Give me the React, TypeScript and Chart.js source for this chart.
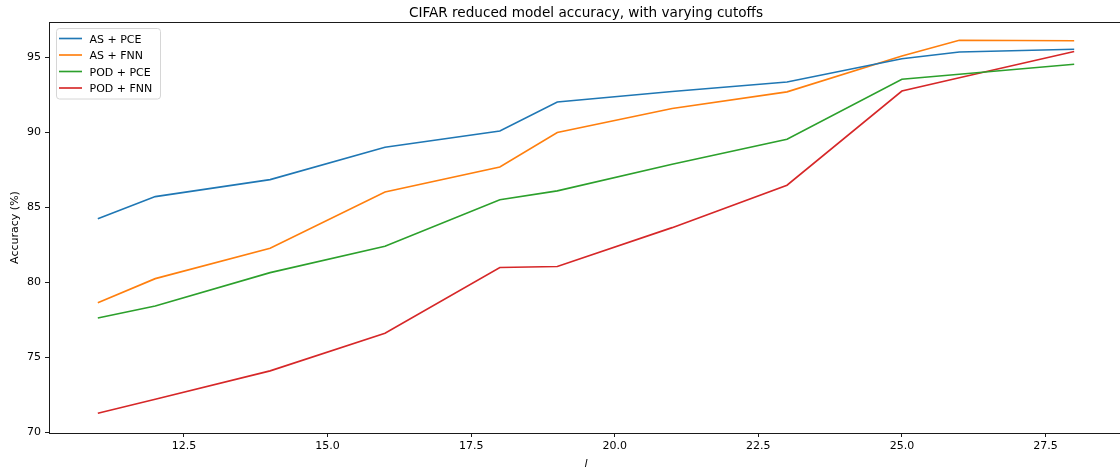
import React, { useEffect, useRef } from "react";
import { Chart, registerables } from "chart.js";

Chart.register(...registerables);

// ---- data ----
const xValues = [11, 12, 14, 16, 18, 19, 21, 23, 25, 26, 28];
const asPce = [84.24, 85.71, 86.84, 89.0, 90.08, 92.02, 92.72, 93.35, 94.9, 95.35, 95.53];
const asFnn = [78.64, 80.24, 82.27, 86.02, 87.68, 89.98, 91.58, 92.69, 95.08, 96.13, 96.1];
const podPce = [77.62, 78.42, 80.64, 82.4, 85.5, 86.09, 87.87, 89.53, 93.53, 93.87, 94.53];
const podFnn = [71.27, 72.2, 74.09, 76.6, 80.98, 81.05, 83.64, 86.47, 92.75, 93.63, 95.38];

const seriesLabels = ["AS + PCE", "AS + FNN", "POD + PCE", "POD + FNN"];
const seriesValues = [asPce, asFnn, podPce, podFnn];
const seriesColors = ["#1f77b4", "#ff7f0e", "#2ca02c", "#d62728"];

const xTicks = [12.5, 15, 17.5, 20, 22.5, 25, 27.5];
const yTicks = [70, 75, 80, 85, 90, 95];

const titleText = "CIFAR reduced model accuracy, with varying cutoffs";
const xLabel = "l";
const yLabel = "Accuracy (%)";

const FONT = "'DejaVu Sans', sans-serif";

const framePlugin = {
  id: "frame",
  afterDraw(chart: any) {
    const { ctx, chartArea } = chart;
    const l = Math.floor(chartArea.left) + 0.5;
    const t = Math.floor(chartArea.top) + 0.5;
    const r = Math.floor(chartArea.right) + 0.5;
    const b = Math.floor(chartArea.bottom) + 0.5;
    ctx.save();
    ctx.strokeStyle = "#1a1a1a";
    ctx.lineWidth = 1;
    ctx.strokeRect(l, t, r - l, b - t);
    ctx.restore();
  },
};

const titlePlugin = {
  id: "mplTitle",
  afterDraw(chart: any) {
    const { ctx, chartArea } = chart;
    ctx.save();
    ctx.font = `13.6px ${FONT}`;
    ctx.fillStyle = "#000";
    ctx.textAlign = "center";
    ctx.textBaseline = "alphabetic";
    ctx.fillText(titleText, (chartArea.left + chartArea.right) / 2, 16.8);
    ctx.restore();
  },
};

const legendPlugin = {
  id: "mplLegend",
  afterDraw(chart: any) {
    const { ctx, chartArea } = chart;
    const bx = Math.floor(chartArea.left) + 7.5;
    const by = Math.floor(chartArea.top) + 6.5;
    const bw = 104;
    const bh = 70.5;
    const rad = 3;
    ctx.save();
    ctx.beginPath();
    ctx.moveTo(bx + rad, by);
    ctx.lineTo(bx + bw - rad, by);
    ctx.quadraticCurveTo(bx + bw, by, bx + bw, by + rad);
    ctx.lineTo(bx + bw, by + bh - rad);
    ctx.quadraticCurveTo(bx + bw, by + bh, bx + bw - rad, by + bh);
    ctx.lineTo(bx + rad, by + bh);
    ctx.quadraticCurveTo(bx, by + bh, bx, by + bh - rad);
    ctx.lineTo(bx, by + rad);
    ctx.quadraticCurveTo(bx, by, bx + rad, by);
    ctx.closePath();
    ctx.fillStyle = "rgba(255,255,255,0.8)";
    ctx.fill();
    ctx.strokeStyle = "#d6d6d6";
    ctx.lineWidth = 1;
    ctx.stroke();
    ctx.font = `11px ${FONT}`;
    ctx.textAlign = "left";
    ctx.textBaseline = "alphabetic";
    chart.data.datasets.forEach((ds: any, i: number) => {
      const cy = by + 10 + i * 16.5;
      ctx.beginPath();
      ctx.strokeStyle = ds.borderColor;
      ctx.lineWidth = 1.65;
      ctx.moveTo(bx + 2.5, cy);
      ctx.lineTo(bx + 25.5, cy);
      ctx.stroke();
      ctx.fillStyle = "#000";
      ctx.fillText(ds.label, bx + 33, cy + 4);
    });
    ctx.restore();
  },
};

export default function App() {
  const ref = useRef<HTMLCanvasElement>(null);

  useEffect(() => {
    const canvas = ref.current;
    if (!canvas) return;
    const chart = new Chart(canvas, {
      type: "line",
      data: {
        datasets: seriesLabels.map((label, si) => ({
          label,
          data: xValues.map((x, i) => ({ x, y: seriesValues[si][i] })),
          borderColor: seriesColors[si],
          backgroundColor: seriesColors[si],
          borderWidth: 1.65,
          pointRadius: 0,
          pointHoverRadius: 0,
          tension: 0,
          fill: false,
        })),
      },
      options: {
        animation: false,
        responsive: false,
        devicePixelRatio: 1,
        layout: { padding: { top: 22, right: 1, left: 0, bottom: 0 } },
        plugins: {
          legend: { display: false },
          title: { display: false },
          tooltip: { enabled: false },
        },
        scales: {
          x: {
            type: "linear",
            min: 10.15,
            max: 28.85,
            afterFit: (s: any) => {
              s.height = 34;
            },
            afterBuildTicks: (s: any) => {
              s.ticks = xTicks.map((v) => ({ value: v }));
            },
            ticks: {
              callback: (v: any) => Number(v).toFixed(1),
              font: { family: FONT, size: 11 },
              color: "#000",
              padding: 3,
              maxRotation: 0,
              autoSkip: false,
            },
            grid: {
              drawOnChartArea: false,
              drawTicks: true,
              tickLength: 4,
              color: "#1a1a1a",
              lineWidth: 1,
            },
            border: { display: false },
            title: {
              display: true,
              text: xLabel,
              font: { family: FONT, size: 11, style: "italic", lineHeight: 1.0 },
              color: "#000",
              padding: { top: 0, bottom: -3 },
            },
          },
          y: {
            type: "linear",
            min: 69.95,
            max: 97.35,
            afterFit: (s: any) => {
              s.width = 49;
            },
            afterBuildTicks: (s: any) => {
              s.ticks = yTicks.map((v) => ({ value: v }));
            },
            ticks: {
              callback: (v: any) => String(v),
              font: { family: FONT, size: 11 },
              color: "#000",
              padding: 4,
              autoSkip: false,
            },
            grid: {
              drawOnChartArea: false,
              drawTicks: true,
              tickLength: 4,
              color: "#1a1a1a",
              lineWidth: 1,
            },
            border: { display: false },
            title: {
              display: true,
              text: yLabel,
              font: { family: FONT, size: 11 },
              color: "#000",
              padding: { top: 9, bottom: 0 },
            },
          },
        },
      },
      plugins: [framePlugin, titlePlugin, legendPlugin],
    } as any);
    return () => {
      chart.destroy();
    };
  }, []);

  return (
    <div
      style={{
        position: "fixed",
        left: 0,
        top: 0,
        width: 1120,
        height: 467,
        overflow: "hidden",
        background: "#fff",
      }}
    >
      <canvas
        ref={ref}
        width={1124}
        height={467}
        style={{ display: "block", width: 1124, height: 467 }}
      />
    </div>
  );
}
